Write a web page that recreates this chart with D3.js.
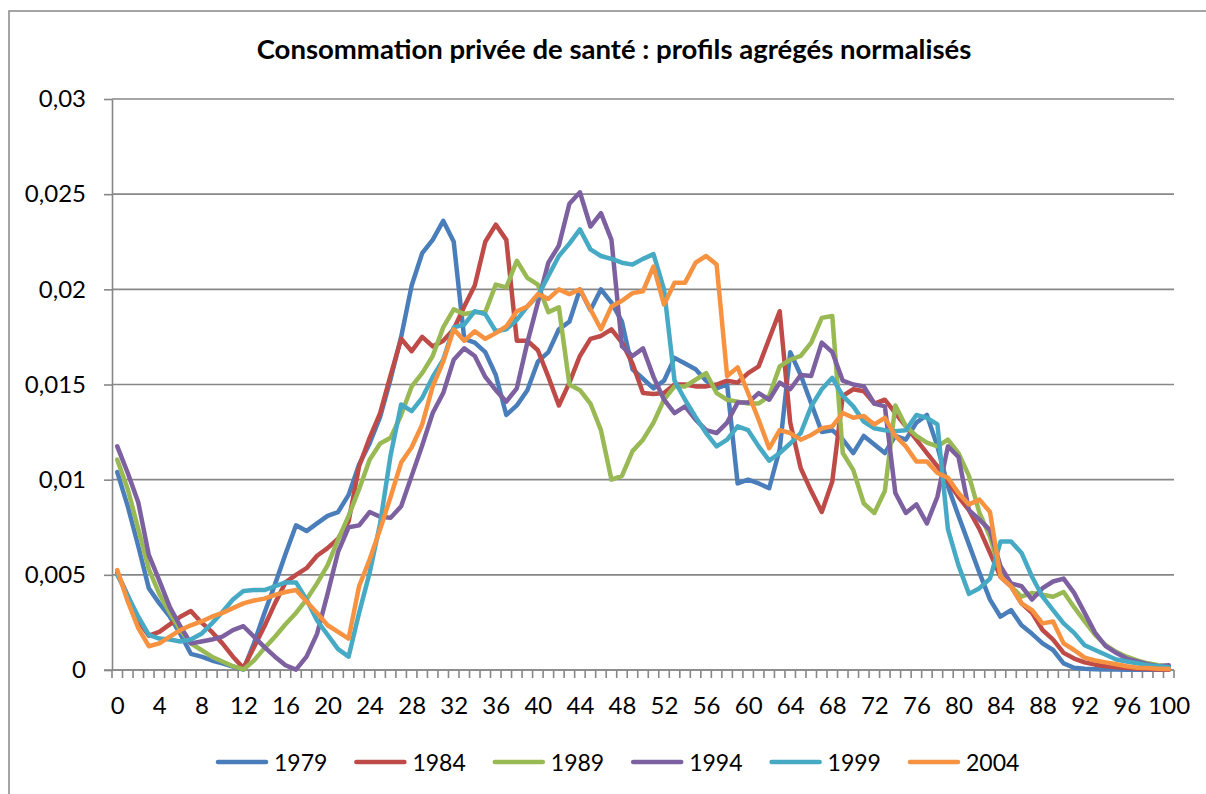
<!DOCTYPE html>
<html><head><meta charset="utf-8">
<script src="https://cdn.jsdelivr.net/npm/d3@7/dist/d3.min.js"></script>
<style>html,body{margin:0;padding:0;background:#fff;}svg{display:block;}</style>
</head><body>
<svg id="chart" width="1206" height="794"></svg>
<script>
// ---- DATA ----
const chartTitle = "Consommation privée de santé : profils agrégés normalisés";
const ages = d3.range(0, 101);
const xTickAges = [0,4,8,12,16,20,24,28,32,36,40,44,48,52,56,60,64,68,72,76,80,84,88,92,96,100];
const xTickLabels = ["0","4","8","12","16","20","24","28","32","36","40","44","48","52","56","60","64","68","72","76","80","84","88","92","96","100"];
const yTickValues = [0,0.005,0.01,0.015,0.02,0.025,0.03];
const yTickLabels = ["0","0,005","0,01","0,015","0,02","0,025","0,03"];
const seriesNames = ["1979","1984","1989","1994","1999","2004"];
const seriesColors = ["#4A7EBB","#BE4B48","#98B954","#7D60A0","#46AAC5","#F69240"];

const s1979 = [
0.0104,0.0086,0.0065,0.0043,0.0035,0.0028,0.0019,0.00085,0.0007,0.0005,
0.00035,0.00018,0.00002,0.0014,0.0030,0.0045,0.0061,0.0076,0.0073,0.0077,
0.0081,0.0083,0.0092,0.0108,0.0119,0.0133,0.0153,0.0175,0.0202,0.0219,
0.0226,0.0236,0.0225,0.0174,0.0172,0.0167,0.0155,0.0134,0.0139,0.0147,
0.0162,0.0167,0.0179,0.0183,0.0200,0.0189,0.0200,0.0193,0.0183,0.0158,
0.0153,0.0148,0.0152,0.0164,0.0161,0.0158,0.0152,0.0148,0.0150,0.0098,
0.0100,0.0098,0.00955,0.0116,0.0167,0.0155,0.0140,0.0125,0.0126,0.0121,
0.0114,0.0123,0.01185,0.0114,0.0123,0.0121,0.0130,0.0134,0.01175,0.00965,
0.0081,0.0066,0.0051,0.0037,0.0028,0.00315,0.00235,0.0019,0.0014,0.00105,
0.00035,0.00012,0.00006,0.00004,0.00003,0.00002,0.00001,0.00001,0.00001,0.00001,0.00001];
const s1984 = [
0.0051,0.0039,0.0026,0.0018,0.0020,0.0024,0.0028,0.0031,0.0025,0.0020,
0.0014,0.0007,0.0001,0.0012,0.0023,0.0035,0.0046,0.0050,0.00535,0.0060,
0.0064,0.0069,0.0078,0.0107,0.0122,0.0135,0.0155,0.0174,0.01675,0.0175,
0.0170,0.0173,0.0179,0.0191,0.0202,0.0225,0.0234,0.0226,0.0173,0.0173,
0.0168,0.0154,0.0139,0.0151,0.0165,0.0174,0.01755,0.0179,0.0172,0.0161,
0.01455,0.0145,0.01455,0.0150,0.0150,0.0149,0.0149,0.0150,0.0152,0.0151,
0.0156,0.01595,0.0174,0.01885,0.0130,0.0106,0.0094,0.0083,0.0099,0.0144,
0.01475,0.01465,0.0140,0.0142,0.0135,0.0128,0.0121,0.0114,0.0107,0.0099,
0.0091,0.0084,0.0074,0.00615,0.0049,0.0044,0.0035,0.0030,0.0021,0.0016,
0.0009,0.0006,0.0004,0.00028,0.0002,0.00014,0.0001,0.00007,0.00005,0.00003,0.00002];
const s1989 = [
0.01105,0.0095,0.0074,0.0053,0.0040,0.0030,0.0021,0.0014,0.00105,0.0007,
0.00045,0.0002,0.00003,0.0005,0.00115,0.00175,0.0024,0.0030,0.0037,0.00455,
0.0055,0.00685,0.0081,0.0095,0.01105,0.0119,0.0122,0.0134,0.0149,0.0156,
0.0165,0.0180,0.01895,0.0187,0.0188,0.0188,0.02025,0.0201,0.0215,0.0206,
0.02025,0.0188,0.01905,0.0150,0.0147,0.0140,0.0126,0.0100,0.0102,0.0115,
0.0121,0.0130,0.0142,0.0149,0.0149,0.01525,0.0156,0.01455,0.0142,0.0141,
0.0140,0.0140,0.0144,0.01595,0.0163,0.0165,0.0172,0.0185,0.0186,0.0114,
0.0105,0.00875,0.00825,0.0094,0.0139,0.0128,0.0123,0.01195,0.01175,0.0121,
0.0114,0.0102,0.00825,0.0070,0.0051,0.0044,0.00385,0.00405,0.00395,0.00385,
0.0041,0.0033,0.00255,0.00185,0.0013,0.00095,0.0007,0.0005,0.00035,0.00025,0.0002];
const s1994 = [
0.01175,0.01035,0.0088,0.00605,0.0047,0.0033,0.0023,0.0014,0.0015,0.0016,
0.00175,0.0021,0.0023,0.00175,0.0012,0.0007,0.00025,0.00002,0.0007,0.0019,
0.0040,0.0062,0.0075,0.0076,0.0083,0.00805,0.0080,0.0086,0.0102,0.0118,
0.0135,0.01455,0.0163,0.0169,0.0165,0.0154,0.0147,0.0141,0.0148,0.0172,
0.0193,0.0214,0.0223,0.0245,0.0251,0.0233,0.0240,0.0226,0.0170,0.0165,
0.0169,0.0154,0.0142,0.0135,0.01385,0.01315,0.0126,0.01245,0.0130,0.01405,
0.01405,0.01455,0.0142,0.0151,0.01475,0.0155,0.01545,0.0172,0.0167,0.0152,
0.0150,0.0149,0.0140,0.01385,0.0093,0.00825,0.0087,0.0077,0.0091,0.01175,
0.0112,0.0084,0.0079,0.00735,0.00545,0.00455,0.0044,0.0037,0.0043,0.00465,
0.0048,0.00405,0.0030,0.00195,0.00125,0.0009,0.0006,0.00045,0.0003,0.0002,0.00025];
const s1999 = [
0.0050,0.0039,0.0028,0.00185,0.00165,0.0016,0.0015,0.0016,0.0019,0.00245,
0.00305,0.0037,0.00415,0.0042,0.0042,0.0044,0.0046,0.0046,0.0037,0.0026,
0.00185,0.0011,0.0007,0.0030,0.0051,0.0077,0.0113,0.01395,0.0136,0.0143,
0.0154,0.0163,0.0180,0.01815,0.01885,0.0187,0.0178,0.0179,0.0184,0.0191,
0.01965,0.0207,0.02175,0.0224,0.02315,0.0221,0.02175,0.0216,0.0214,0.0213,
0.0216,0.02185,0.0200,0.0152,0.0142,0.0133,0.01245,0.01175,0.0121,0.0128,
0.0126,0.01175,0.0110,0.0114,0.0119,0.01245,0.01385,0.01475,0.01535,0.0144,
0.01385,0.01305,0.0127,0.0126,0.01255,0.0126,0.0134,0.01325,0.0129,0.0074,
0.0055,0.0040,0.0043,0.0048,0.00675,0.00675,0.00615,0.0049,0.00385,0.00315,
0.00245,0.00195,0.0013,0.00105,0.0008,0.00055,0.00045,0.00035,0.00025,0.0002,0.00015];
const s2004 = [
0.00525,0.0036,0.0022,0.00125,0.0014,0.00175,0.0021,0.00235,0.00255,0.0028,
0.0030,0.00325,0.0035,0.00365,0.00375,0.00395,0.0041,0.0042,0.0036,0.0030,
0.00235,0.0020,0.00165,0.0044,0.0058,0.0074,0.0091,0.0109,0.0117,0.0129,
0.0149,0.0162,0.0179,0.0173,0.0178,0.0174,0.0177,0.01805,0.01885,0.0191,
0.01975,0.0195,0.0200,0.01975,0.0200,0.01895,0.0179,0.0191,0.0194,0.0198,
0.0199,0.0212,0.0192,0.02035,0.02035,0.0214,0.02175,0.0213,0.01545,0.0159,
0.01455,0.01315,0.01165,0.0126,0.01245,0.0121,0.01235,0.0127,0.0128,0.0135,
0.01325,0.01335,0.0129,0.01325,0.0123,0.01175,0.01095,0.01095,0.01035,0.0101,
0.0093,0.0087,0.00895,0.0083,0.0049,0.0044,0.0035,0.00315,0.00245,0.00255,
0.0014,0.00105,0.00065,0.0005,0.0004,0.0003,0.0002,0.00012,0.0001,0.00007,0.00005];
const seriesValues = [s1979, s1984, s1989, s1994, s1999, s2004];

// ---- LAYOUT ----
const FONT = "Lato, 'Open Sans', 'Liberation Sans', sans-serif";
const plot = {left:112, right:1174, top:99, bottom:670};
const gridColor = "#878787";
const svg = d3.select("#chart");

// chart area border
svg.append("rect").attr("x",9).attr("y",11).attr("width",1220).attr("height",800)
  .attr("fill","#fff").attr("stroke","#868686").attr("stroke-width",1.5);

const x = d3.scalePoint().domain(ages).range([plot.left, plot.right]).padding(0.5);
const y = d3.scaleLinear().domain([0,0.03]).range([plot.bottom, plot.top]);

// gridlines
svg.append("g").selectAll("line").data(yTickValues).join("line")
  .attr("x1",plot.left).attr("x2",plot.right)
  .attr("y1",d=>y(d)).attr("y2",d=>y(d))
  .attr("stroke",gridColor).attr("stroke-width",1.6);

// y axis
const yAxis = d3.axisLeft(y).tickValues(yTickValues)
  .tickFormat((d,i)=>yTickLabels[i]).tickSizeInner(8).tickSizeOuter(0).tickPadding(18);
const gy = svg.append("g").attr("transform",`translate(${plot.left},0)`).call(yAxis);
gy.select(".domain").attr("stroke",gridColor).attr("stroke-width",1.6);
gy.selectAll(".tick line").attr("stroke",gridColor).attr("stroke-width",1.6);
gy.selectAll(".tick text").attr("font-family",FONT).attr("font-size",24).attr("fill","#000");

// x axis (boundary tick marks between categories)
const step = x.step();
const boundaries = d3.range(0, ages.length+1).map(k => plot.left + k*step);
svg.append("g").selectAll("line").data(boundaries).join("line")
  .attr("x1",d=>d).attr("x2",d=>d).attr("y1",plot.bottom).attr("y2",plot.bottom+8)
  .attr("stroke",gridColor).attr("stroke-width",1.6);
svg.append("line").attr("x1",plot.left-8).attr("x2",plot.right)
  .attr("y1",plot.bottom).attr("y2",plot.bottom).attr("stroke",gridColor).attr("stroke-width",1.6);
const xAxis = d3.axisBottom(x).tickValues(xTickAges)
  .tickFormat((d,i)=>xTickLabels[i]).tickSize(0).tickPadding(27);
const gx = svg.append("g").attr("transform",`translate(0,${plot.bottom})`).call(xAxis);
gx.select(".domain").remove();
gx.selectAll(".tick text").attr("font-family",FONT).attr("font-size",24).attr("fill","#000");

// lines
const line = d3.line().x((d,i)=>x(ages[i])).y(d=>y(d));
svg.append("g").selectAll("path").data(seriesValues).join("path")
  .attr("d",d=>line(d)).attr("fill","none")
  .attr("stroke",(d,i)=>seriesColors[i]).attr("stroke-width",4.5)
  .attr("stroke-linejoin","round").attr("stroke-linecap","round");

// title
const title = svg.append("text").attr("x",614).attr("y",59).attr("text-anchor","middle")
  .attr("font-family",FONT).attr("font-weight","bold").attr("font-size",24).text(chartTitle);
const tw = title.node().getComputedTextLength();
title.attr("font-size", 24*715/tw);

// legend
const legend = svg.append("g");
seriesNames.forEach((name,i)=>{
  const lx = 216 + i*138.4;
  legend.append("line").attr("x1",lx+2).attr("x2",lx+50).attr("y1",762).attr("y2",762)
    .attr("stroke",seriesColors[i]).attr("stroke-width",4.5).attr("stroke-linecap","round");
  legend.append("text").attr("x",lx+58).attr("y",770.5).attr("font-family",FONT)
    .attr("font-size",23).attr("fill","#000").text(name);
});
</script>
</body></html>
